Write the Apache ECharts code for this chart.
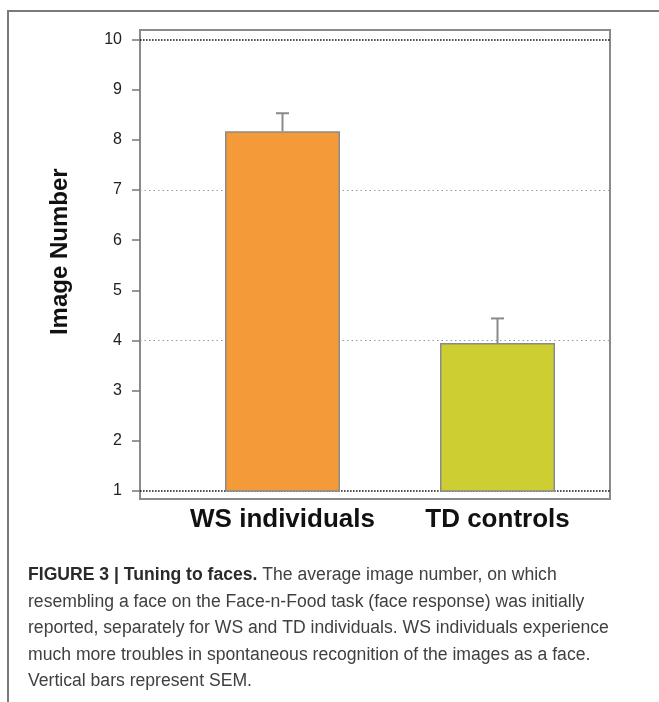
<!DOCTYPE html>
<html>
<head>
<meta charset="utf-8">
<script src="https://cdn.jsdelivr.net/npm/echarts@6/dist/echarts.min.js"></script>
<style>
  html, body { margin: 0; padding: 0; background: #fff; }
  #chart { width: 659px; height: 702px; }
</style>
</head>
<body>
<div id="chart"></div>
<script>
// Group names, mean image number and standard error of the mean
const groups = ['WS individuals', 'TD controls'];
const meanImage = [8.17, 3.95];
const semImage = [0.36, 0.49];
const barColors = ['#F59A38', '#CCCE32'];
const yTicks = [1, 2, 3, 4, 5, 6, 7, 8, 9, 10];

const FRAME = '#8a8a8a';
const FONT = '"Liberation Sans", Arial, Helvetica, sans-serif';

const chart = echarts.init(document.getElementById('chart'), null, { renderer: 'canvas' });

// dotted reference lines: heavy black at the axis limits, light grey at 4 and 7
const blackLines = yTicks.map(v => (v === 1 || v === 10) ? '#1a1a1a' : 'rgba(0,0,0,0)');
const greyLines = yTicks.map(v => (v === 4 || v === 7) ? '#9a9a9a' : 'rgba(0,0,0,0)');

const option = {
  backgroundColor: '#ffffff',
  animation: false,
  textStyle: { fontFamily: FONT },
  title: {
    left: 28,
    top: 562,
    padding: 0,
    text: '{b|FIGURE 3 | Tuning to faces.} The average image number, on which\n' +
          'resembling a face on the Face-n-Food task (face response) was initially\n' +
          'reported, separately for WS and TD individuals. WS individuals experience\n' +
          'much more troubles in spontaneous recognition of the images as a face.\n' +
          'Vertical bars represent SEM.',
    textStyle: {
      fontFamily: FONT,
      fontSize: 17.6,
      fontWeight: 'normal',
      color: '#404040',
      lineHeight: 26.5,
      rich: {
        b: { fontFamily: FONT, fontSize: 17.6, fontWeight: 'bold', color: '#2a2a2a', lineHeight: 26.5 }
      }
    }
  },
  graphic: [
    {
      // figure panel outline (top and left edges visible)
      type: 'rect',
      shape: { x: 8, y: 11, width: 720, height: 740 },
      style: { fill: 'none', stroke: '#7a7a7a', lineWidth: 2 },
      silent: true
    }
  ],
  grid: [
    // plot frame
    { left: 140, top: 30, width: 470, height: 469, show: true, borderColor: FRAME, borderWidth: 2, backgroundColor: 'rgba(0,0,0,0)' },
    // value scale (full width reference lines)
    { left: 140, top: 39.5, width: 470, height: 451.5 },
    // bars
    { left: 175, top: 39.5, width: 430, height: 451.5 }
  ],
  xAxis: [
    { gridIndex: 0, type: 'value', show: false },
    { gridIndex: 1, type: 'value', show: false },
    {
      gridIndex: 2,
      type: 'category',
      data: groups,
      axisLine: { show: false },
      axisTick: { show: false },
      axisLabel: {
        interval: 0,
        hideOverlap: false,
        margin: 16,
        fontFamily: FONT,
        fontSize: 26,
        fontWeight: 'bold',
        color: '#111'
      }
    }
  ],
  yAxis: [
    { gridIndex: 0, type: 'value', show: false },
    {
      gridIndex: 1,
      type: 'value',
      min: 1,
      max: 10,
      interval: 1,
      name: 'Image Number',
      nameLocation: 'middle',
      nameGap: 68,
      nameTextStyle: { fontFamily: FONT, fontSize: 24, fontWeight: 'bold', color: '#111', padding: [0, 0, 0, 27] },
      axisLine: { show: false },
      axisTick: { show: true, length: 8, lineStyle: { color: '#777', width: 1.5 } },
      axisLabel: { margin: 18, fontFamily: FONT, fontSize: 16, color: '#222' },
      splitLine: { show: true, lineStyle: { color: blackLines, width: 1.7, type: [1.6, 1.4] } }
    },
    {
      gridIndex: 1,
      type: 'value',
      min: 1,
      max: 10,
      interval: 1,
      axisLine: { show: false },
      axisTick: { show: false },
      axisLabel: { show: false },
      splitLine: { show: true, lineStyle: { color: greyLines, width: 1.2, type: [1.5, 3] } }
    },
    { gridIndex: 2, type: 'value', min: 1, max: 10, show: false }
  ],
  series: [
    {
      type: 'bar',
      xAxisIndex: 2,
      yAxisIndex: 3,
      barWidth: 115,
      clip: true,
      data: meanImage.map((v, i) => ({
        value: v,
        itemStyle: { color: barColors[i], borderColor: FRAME, borderWidth: 1.5 }
      })),
      z: 3
    },
    {
      type: 'custom',
      xAxisIndex: 2,
      yAxisIndex: 3,
      z: 4,
      data: meanImage.map((v, i) => [i, v, v + semImage[i]]),
      renderItem: function (params, api) {
        const base = api.coord([api.value(0), api.value(1)]);
        const top = api.coord([api.value(0), api.value(2)]);
        const half = 6.5;
        const style = { stroke: FRAME, lineWidth: 2 };
        return {
          type: 'group',
          children: [
            { type: 'line', shape: { x1: base[0], y1: base[1], x2: top[0], y2: top[1] }, style: style },
            { type: 'line', shape: { x1: top[0] - half, y1: top[1], x2: top[0] + half, y2: top[1] }, style: style }
          ]
        };
      }
    }
  ]
};

chart.setOption(option);
</script>
</body>
</html>
